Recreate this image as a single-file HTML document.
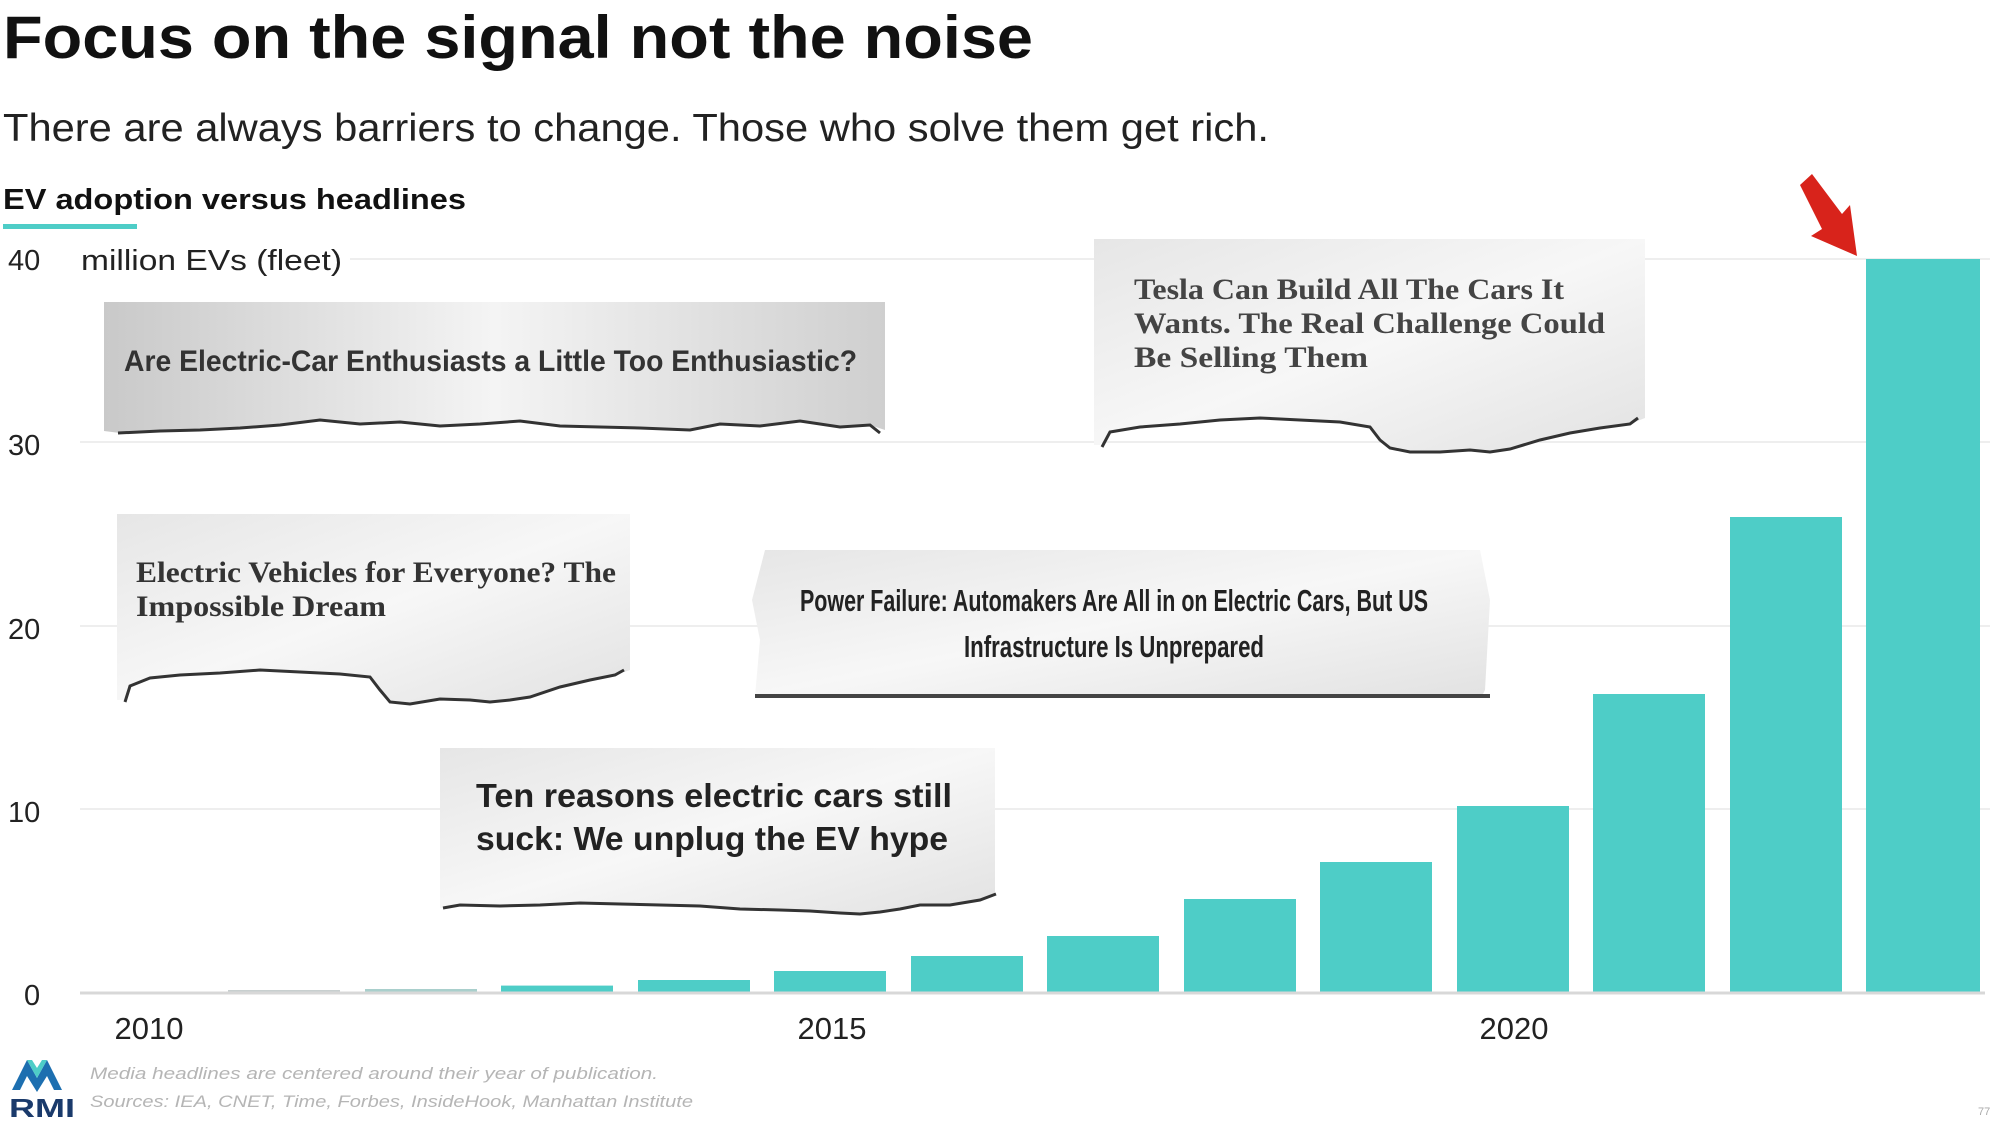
<!DOCTYPE html>
<html><head><meta charset="utf-8"><style>
html,body{margin:0;padding:0;background:#fff;}
svg{display:block;}
</style></head><body>
<svg width="2000" height="1129" viewBox="0 0 2000 1129" xmlns="http://www.w3.org/2000/svg">
<defs>
<linearGradient id="g1" x1="0" x2="1" y1="0" y2="0">
<stop offset="0" stop-color="#c9c9c9"/><stop offset="0.5" stop-color="#f4f4f4"/><stop offset="1" stop-color="#cfcfcf"/>
</linearGradient>
<linearGradient id="g2" x1="0" x2="1" y1="0" y2="1">
<stop offset="0" stop-color="#e6e6e6"/><stop offset="0.5" stop-color="#f7f7f7"/><stop offset="1" stop-color="#e2e2e2"/>
</linearGradient>
</defs>
<!-- title -->
<text x="3" y="58" font-family="Liberation Sans, sans-serif" font-weight="bold" font-size="60" fill="#111" textLength="1030" lengthAdjust="spacingAndGlyphs">Focus on the signal not the noise</text>
<text x="3" y="141" font-family="Liberation Sans, sans-serif" font-size="39" fill="#222" textLength="1266" lengthAdjust="spacingAndGlyphs">There are always barriers to change. Those who solve them get rich.</text>
<text x="3" y="209" font-family="Liberation Sans, sans-serif" font-weight="bold" font-size="29" fill="#111" textLength="463" lengthAdjust="spacingAndGlyphs">EV adoption versus headlines</text>
<rect x="3" y="224" width="134" height="5" fill="#4ecdc7"/>
<!-- gridlines -->
<g stroke="#eeeeee" stroke-width="2">
<line x1="350" y1="259" x2="1990" y2="259"/>
<line x1="80" y1="442" x2="1990" y2="442"/>
<line x1="80" y1="626" x2="1990" y2="626"/>
<line x1="80" y1="809" x2="1990" y2="809"/>
</g>
<!-- y labels -->
<g font-family="Liberation Sans, sans-serif" font-size="29" fill="#222">
<text x="8" y="270">40</text>
<text x="81" y="270" textLength="261" lengthAdjust="spacingAndGlyphs">million EVs (fleet)</text>
<text x="8" y="455">30</text>
<text x="8" y="639">20</text>
<text x="8" y="822">10</text>
<text x="24" y="1005">0</text>
</g>
<!-- bars -->
<g fill="#4ecdc7">
<rect x="228" y="990" width="112" height="3" fill="#c8cfcf"/>
<rect x="365" y="989" width="112" height="4" fill="#a9cfcc"/>
<rect x="501" y="985.6" width="112" height="7.4"/>
<rect x="638" y="980" width="112" height="13"/>
<rect x="774" y="971" width="112" height="22"/>
<rect x="911" y="956" width="112" height="37"/>
<rect x="1047" y="936" width="112" height="57"/>
<rect x="1184" y="899" width="112" height="94"/>
<rect x="1320" y="862" width="112" height="131"/>
<rect x="1457" y="806" width="112" height="187"/>
<rect x="1593" y="694" width="112" height="299"/>
<rect x="1730" y="517" width="112" height="476"/>
<rect x="1866" y="259" width="114" height="734"/>
</g>
<line x1="80" y1="993" x2="1985" y2="993" stroke="#d8d8d8" stroke-width="3"/>
<!-- x labels -->
<g font-family="Liberation Sans, sans-serif" font-size="31" fill="#222" text-anchor="middle">
<text x="149" y="1039">2010</text>
<text x="832" y="1039">2015</text>
<text x="1514" y="1039">2020</text>
</g>
<!-- arrow -->
<g fill="#d8231b">
<polygon points="1800,185 1812,174 1842,214 1850,205 1857,256 1811,236 1822,229"/>
</g>
<!-- card 1 -->
<path d="M104,302 H885 V430 L870,425 L840,427 L800,421 L760,426 L720,424 L690,430 L640,428 L600,427 L560,426 L520,421 L480,424 L440,426 L400,422 L360,424 L320,420 L280,425 L240,428 L200,430 L160,431 L120,433 L104,431 Z" fill="url(#g1)"/>
<path d="M118,433 L160,431 L200,430 L240,428 L280,425 L320,420 L360,424 L400,422 L440,426 L480,424 L520,421 L560,426 L600,427 L640,428 L690,430 L720,424 L760,426 L800,421 L840,427 L870,425 L880,433" fill="none" stroke="#333" stroke-width="3"/>
<text x="124" y="371" font-family="Liberation Sans, sans-serif" font-size="30" fill="#333" textLength="733" lengthAdjust="spacingAndGlyphs" font-weight="bold">Are Electric-Car Enthusiasts a Little Too Enthusiastic?</text>
<!-- card 2 Tesla -->
<path d="M1094,239 H1645 V418 L1630,424 L1600,428 L1570,433 L1540,440 L1510,449 L1490,452 L1470,450 L1440,452 L1410,452 L1390,448 L1380,440 L1370,427 L1340,422 L1300,420 L1260,418 L1220,420 L1180,424 L1140,427 L1110,432 L1100,445 L1094,445 Z" fill="url(#g2)"/>
<path d="M1102,447 L1110,432 L1140,427 L1180,424 L1220,420 L1260,418 L1300,420 L1340,422 L1370,427 L1380,440 L1390,448 L1410,452 L1440,452 L1470,450 L1490,452 L1510,449 L1540,440 L1570,433 L1600,428 L1630,424 L1638,418" fill="none" stroke="#333" stroke-width="3"/>
<g font-family="Liberation Serif, serif" font-weight="bold" font-size="30" fill="#444">
<text x="1134" y="299" textLength="430" lengthAdjust="spacingAndGlyphs">Tesla Can Build All The Cars It</text>
<text x="1134" y="333" textLength="471" lengthAdjust="spacingAndGlyphs">Wants. The Real Challenge Could</text>
<text x="1134" y="367" textLength="234" lengthAdjust="spacingAndGlyphs">Be Selling Them</text>
</g>
<!-- card 3 -->
<path d="M117,514 H630 V670 L615,675 L590,680 L560,687 L530,697 L510,700 L490,702 L470,700 L440,699 L410,704 L390,702 L380,690 L370,677 L340,674 L300,672 L260,670 L220,673 L180,675 L150,678 L130,686 L125,700 L117,700 Z" fill="url(#g2)"/>
<path d="M125,702 L130,686 L150,678 L180,675 L220,673 L260,670 L300,672 L340,674 L370,677 L380,690 L390,702 L410,704 L440,699 L470,700 L490,702 L510,700 L530,697 L560,687 L590,680 L615,675 L624,670" fill="none" stroke="#333" stroke-width="3"/>
<g font-family="Liberation Serif, serif" font-weight="bold" font-size="30" fill="#333">
<text x="136" y="582" textLength="480" lengthAdjust="spacingAndGlyphs">Electric Vehicles for Everyone? The</text>
<text x="136" y="616" textLength="250" lengthAdjust="spacingAndGlyphs">Impossible Dream</text>
</g>
<!-- card 4 -->
<path d="M765,550 H1480 L1490,600 L1485,690 L1482,696 H755 L760,640 L752,600 Z" fill="url(#g2)"/>
<line x1="755" y1="696" x2="1490" y2="696" stroke="#444" stroke-width="4"/>
<g font-family="Liberation Sans Narrow, Liberation Sans, sans-serif" font-weight="bold" font-size="31" fill="#222" text-anchor="middle">
<text x="1114" y="611" textLength="628" lengthAdjust="spacingAndGlyphs">Power Failure: Automakers Are All in on Electric Cars, But US</text>
<text x="1114" y="657" textLength="300" lengthAdjust="spacingAndGlyphs">Infrastructure Is Unprepared</text>
</g>
<!-- card 5 -->
<path d="M440,748 H995 V896 L980,900 L950,905 L920,905 L900,909 L880,912 L860,914 L840,913 L810,911 L780,910 L740,909 L700,906 L660,905 L620,904 L580,903 L540,905 L500,906 L460,905 L445,908 L440,908 Z" fill="url(#g2)"/>
<path d="M443,908 L460,905 L500,906 L540,905 L580,903 L620,904 L660,905 L700,906 L740,909 L780,910 L810,911 L840,913 L860,914 L880,912 L900,909 L920,905 L950,905 L980,900 L996,894" fill="none" stroke="#333" stroke-width="3"/>
<g font-family="Liberation Sans, sans-serif" font-weight="bold" font-size="33" fill="#222">
<text x="476" y="807" textLength="476" lengthAdjust="spacingAndGlyphs">Ten reasons electric cars still</text>
<text x="476" y="850" textLength="472" lengthAdjust="spacingAndGlyphs">suck: We unplug the EV hype</text>
</g>
<!-- footer -->
<g>
<polygon points="12,1090 27,1060 37,1078 47,1060 62,1090 54,1090 47,1076 37,1092 27,1076 20,1090" fill="#1d6fb0"/>
<polygon points="27,1060 37,1078 47,1060 42,1060 37,1068 32,1060" fill="#4ecdc7"/>
<text x="9" y="1117" font-family="Liberation Sans, sans-serif" font-weight="bold" font-size="26" fill="#1a3a6b" textLength="66" lengthAdjust="spacingAndGlyphs">RMI</text>
<g font-family="Liberation Sans, sans-serif" font-style="italic" font-size="17" fill="#b5b5b5">
<text x="90" y="1079" textLength="568" lengthAdjust="spacingAndGlyphs">Media headlines are centered around their year of publication.</text>
<text x="90" y="1107" textLength="603" lengthAdjust="spacingAndGlyphs">Sources: IEA, CNET, Time, Forbes, InsideHook, Manhattan Institute</text>
</g>
<text x="1978" y="1115" font-family="Liberation Sans, sans-serif" font-size="11" fill="#aaa">77</text>
</g>
</svg>
</body></html>
